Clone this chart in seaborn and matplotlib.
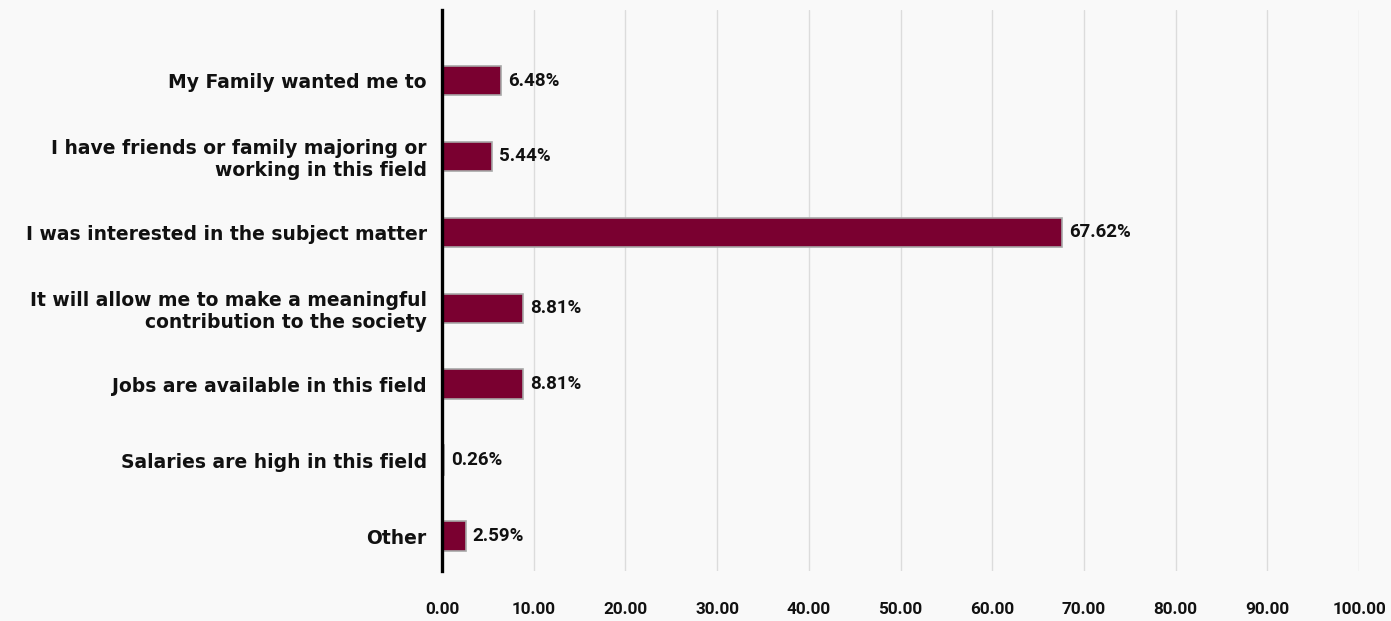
import matplotlib
matplotlib.use("Agg")
import matplotlib.pyplot as plt
import seaborn as sns
import pandas as pd

categories = [
    "My Family wanted me to",
    "I have friends or family majoring or\nworking in this field",
    "I was interested in the subject matter",
    "It will allow me to make a meaningful\ncontribution to the society",
    "Jobs are available in this field",
    "Salaries are high in this field",
    "Other",
]
values = [6.48, 5.44, 67.62, 8.81, 8.81, 0.26, 2.59]
value_labels = ["6.48%", "5.44%", "67.62%", "8.81%", "8.81%", "0.26%", "2.59%"]
x_ticks = [0, 10, 20, 30, 40, 50, 60, 70, 80, 90, 100]
x_tick_labels = ["0.00", "10.00", "20.00", "30.00", "40.00", "50.00",
                 "60.00", "70.00", "80.00", "90.00", "100.00"]

sns.set_style("white")
plt.rcParams["font.family"] = ["DejaVu Sans"]

BG = "#f9f9f9"
NUMFONT = "Roboto"
fig = plt.figure(figsize=(13.91, 6.21), dpi=100, facecolor=BG)
ax = fig.add_axes([0.3178, 0.0805, 0.977 - 0.3178, 0.984 - 0.0805])
ax.set_facecolor(BG)

df = pd.DataFrame({"category": categories, "value": values})
sns.barplot(data=df, y="category", x="value", orient="h", ax=ax,
            color="#7a0030", saturation=1, width=0.39,
            edgecolor="#a8a8a8", linewidth=1.2, zorder=3)

ax.bar_label(ax.containers[0], labels=value_labels, padding=5,
             fontsize=13.5, fontweight="bold", family=NUMFONT,
             color="#111111")

ax.set_xlim(0, 100)
ax.set_ylim(6.46, -0.93)
ax.set_xticks(x_ticks)
ax.set_xticklabels(x_tick_labels, fontsize=12.3, fontweight="bold",
                   family=NUMFONT, color="#111111")
for lab in ax.get_yticklabels():
    lab.set_fontsize(13.5)
    lab.set_fontweight("bold")
    lab.set_color("#111111")
ax.tick_params(axis="x", length=0, pad=22)
ax.tick_params(axis="y", length=0, pad=11)
ax.set_xlabel("")
ax.set_ylabel("")

ax.grid(axis="x", color="#dcdcdc", linewidth=1.0, zorder=0)
ax.grid(axis="y", visible=False)
for s in ["top", "right", "bottom"]:
    ax.spines[s].set_visible(False)
ax.spines["left"].set_color("black")
ax.spines["left"].set_linewidth(2.4)
ax.spines["left"].set_zorder(5)

fig.savefig("out.png", dpi=100, facecolor=BG)
